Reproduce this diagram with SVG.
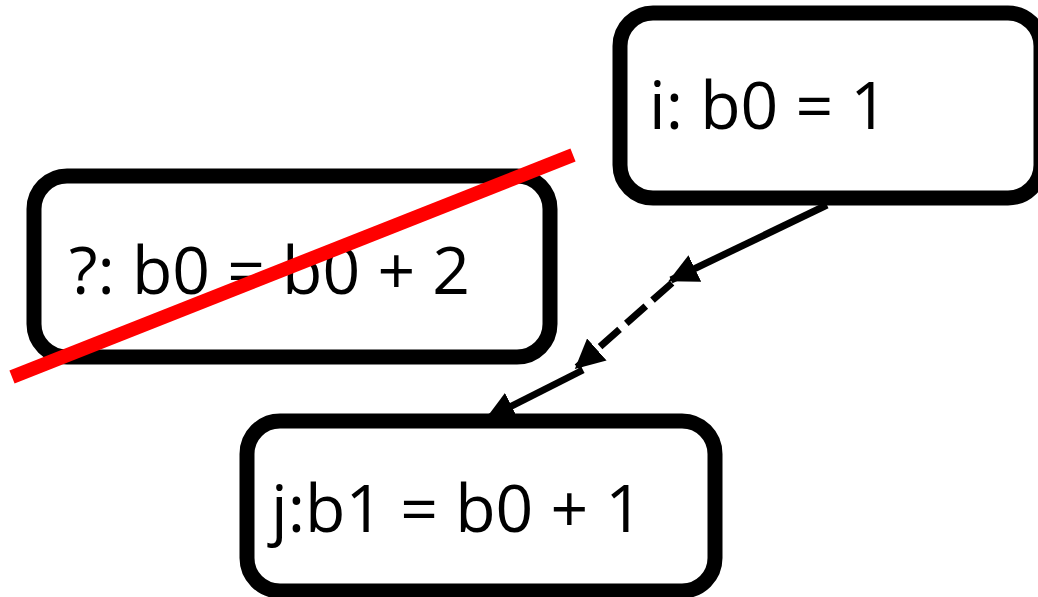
<svg xmlns="http://www.w3.org/2000/svg" width="1038" height="597" viewBox="0 0 1038 597">
<style>
.box{fill:#fff;stroke:#000;stroke-width:15}
.lbl{font-family:"Open Sans","Noto Sans",sans-serif;font-size:66px;fill:#000}
.conn{fill:none;stroke:#000;stroke-width:7}
</style>
<defs>
<marker id="ah" viewBox="0 0 10 10" refX="9" refY="5" markerWidth="4.2" markerHeight="4.2" markerUnits="strokeWidth" orient="auto">
<path d="M0,0 L10,5 L0,10 z" fill="#000"/>
</marker>
</defs>
<rect width="1038" height="597" fill="#fff"/>
<g id="node-i">
<rect class="box" x="620" y="13" width="421" height="185" rx="33"/>
<text class="lbl" x="649" y="129">i: b0 = 1</text>
</g>
<g id="node-q">
<rect class="box" x="34" y="176" width="516" height="181" rx="33"/>
<text class="lbl" x="69" y="294">?: b0 = b0 + 2</text>
</g>
<g id="node-j">
<rect class="box" x="247" y="421" width="468" height="170" rx="33"/>
<text class="lbl" x="271" y="532">j:b1 = b0 + 1</text>
</g>
<g id="connectors">
<line class="conn" x1="827" y1="205" x2="671" y2="280" marker-end="url(#ah)"/>
<line class="conn" x1="672" y1="283" x2="577" y2="367" stroke-dasharray="26,9" marker-end="url(#ah)"/>
<line class="conn" x1="583" y1="370" x2="488" y2="418" marker-end="url(#ah)"/>
</g>
<g id="strike">
<line x1="12" y1="377" x2="573" y2="155" stroke="#f00" stroke-width="14"/>
</g>
</svg>
